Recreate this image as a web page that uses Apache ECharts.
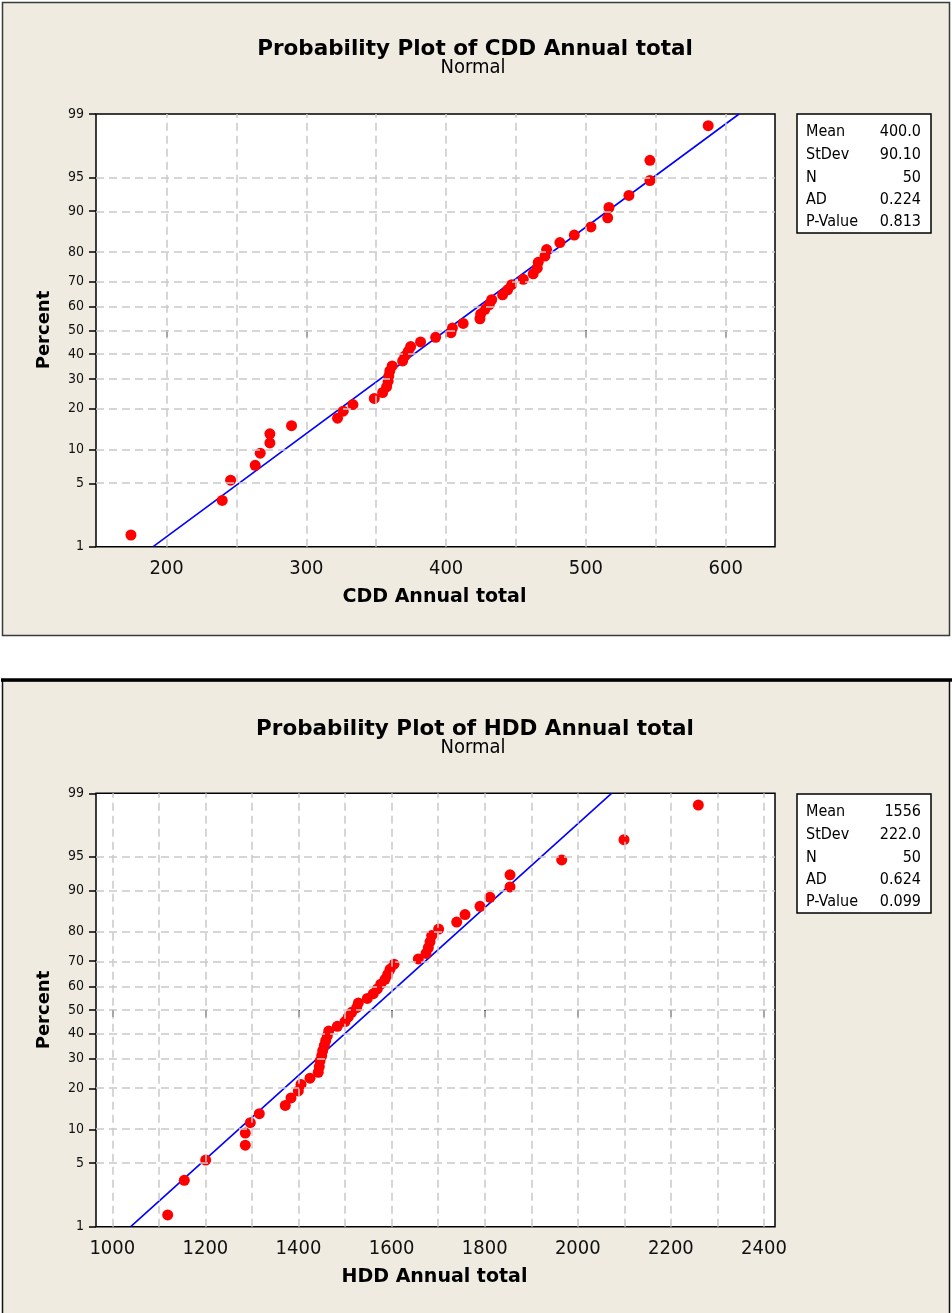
<!DOCTYPE html>
<html>
<head>
<meta charset="utf-8">
<script src="https://cdn.jsdelivr.net/npm/echarts@6/dist/echarts.min.js"></script>
<style>
html,body{margin:0;padding:0;background:#ffffff;}
#chart{width:952px;height:1313px;}
</style>
</head>
<body>
<div id="chart"></div>
<script>
// ---------------- DATA ----------------
const percentTicks = [1, 5, 10, 20, 30, 40, 50, 60, 70, 80, 90, 95, 99];
const percentGrid = [5, 10, 20, 30, 40, 50, 60, 70, 80, 90, 95];

const cddValues = [174.5, 239.8, 245.8, 263.4, 267.0, 273.9, 273.9, 289.4, 322.3, 326.4,
  333.3, 348.6, 354.6, 357.4, 358.5, 359.0, 359.7, 361.4, 368.9, 370.5,
  372.9, 374.6, 381.7, 392.5, 403.5, 404.5, 412.2, 424.2, 424.7, 427.8,
  430.9, 432.6, 440.4, 444.0, 446.9, 455.2, 462.3, 465.2, 465.9, 470.7,
  471.9, 481.4, 491.7, 503.6, 515.6, 516.5, 530.8, 545.8, 545.8, 587.5];
const hddValues = [1119, 1154.7, 1200.6, 1285.7, 1285.7, 1296.5, 1315.8, 1371.6, 1383.9, 1399.6,
  1405.4, 1424.7, 1442.5, 1444.7, 1446.2, 1449.8, 1452.0, 1455.4, 1458.4, 1461.9,
  1464.9, 1483.4, 1499.9, 1507.0, 1514.3, 1525.0, 1528.5, 1547.8, 1560.7, 1569.3,
  1576.6, 1585.8, 1591.6, 1596.6, 1605.2, 1657.4, 1673.9, 1678.9, 1682.5, 1686.1,
  1701.0, 1739.8, 1757.7, 1789.9, 1811.4, 1854.4, 1854.4, 1965.4, 2099.2, 2258.9];

const cddMean = 400.0, cddStDev = 90.10;
const hddMean = 1556, hddStDev = 222.0;

const statLabels = ['Mean', 'StDev', 'N', 'AD', 'P-Value'];
const cddStatValues = ['400.0', '90.10', '50', '0.224', '0.813'];
const hddStatValues = ['1556', '222.0', '50', '0.624', '0.099'];

const cddTickLabels = [200, 300, 400, 500, 600];
const cddGridLines = [200, 250, 300, 350, 400, 450, 500, 550, 600];
const hddTickLabels = [1000, 1200, 1400, 1600, 1800, 2000, 2200, 2400];
const hddGridLines = [1000, 1100, 1200, 1300, 1400, 1500, 1600, 1700, 1800, 1900, 2000, 2100, 2200, 2300, 2400];

const cddTitle = 'Probability Plot of CDD Annual total';
const hddTitle = 'Probability Plot of HDD Annual total';
const subTitle = 'Normal';
const cddXName = 'CDD Annual total';
const hddXName = 'HDD Annual total';
const yName = 'Percent';

// ---------------- normal probability scale ----------------
function probit(p) {
  const a = [-3.969683028665376e+01, 2.209460984245205e+02, -2.759285104469687e+02, 1.383577518672690e+02, -3.066479806614716e+01, 2.506628277459239e+00];
  const b = [-5.447609879822406e+01, 1.615858368580409e+02, -1.556989798598866e+02, 6.680131188771972e+01, -1.328068155288572e+01];
  const c = [-7.784894002430293e-03, -3.223964580411365e-01, -2.400758277161838e+00, -2.549732539343734e+00, 4.374664141464968e+00, 2.938163982698783e+00];
  const d = [7.784695709041462e-03, 3.224671290700398e-01, 2.445134137142996e+00, 3.754408661907416e+00];
  const plow = 0.02425, phigh = 1 - plow;
  let q, r;
  if (p < plow) {
    q = Math.sqrt(-2 * Math.log(p));
    return (((((c[0]*q+c[1])*q+c[2])*q+c[3])*q+c[4])*q+c[5]) / ((((d[0]*q+d[1])*q+d[2])*q+d[3])*q+1);
  } else if (p <= phigh) {
    q = p - 0.5; r = q*q;
    return (((((a[0]*r+a[1])*r+a[2])*r+a[3])*r+a[4])*r+a[5])*q / (((((b[0]*r+b[1])*r+b[2])*r+b[3])*r+b[4])*r+1);
  } else {
    q = Math.sqrt(-2 * Math.log(1 - p));
    return -(((((c[0]*q+c[1])*q+c[2])*q+c[3])*q+c[4])*q+c[5]) / ((((d[0]*q+d[1])*q+d[2])*q+d[3])*q+1);
  }
}
const zMin = probit(0.01), zMax = probit(0.99);
const zTicks = percentTicks.map(p => probit(p / 100));
function zLabel(v) {
  for (let i = 0; i < zTicks.length; i++) if (Math.abs(zTicks[i] - v) < 1e-6) return String(percentTicks[i]);
  return '';
}
// median-rank plotting positions (Minitab)
function points(values) {
  const n = values.length;
  return values.map((v, i) => [v, probit((i + 1 - 0.3) / (n + 0.4))]);
}

// ---------------- layout ----------------
const FONT_R = '"DejaVu Sans Condensed", "DejaVu Sans", sans-serif';
const FONT_B = '"DejaVu Sans", sans-serif';
const BG = '#efebe1';
const OFF = 680;
const gridLeft = 96, gridW = 679, gridTop = 114, gridH = 432.7;

function xAxisFor(idx, min, max, ticks) {
  return {
    type: 'value', gridIndex: idx, min: min, max: max,
    axisLine: {show: false},
    splitLine: {show: false},
    axisTick: {show: true, inside: false, length: 7, customValues: ticks, lineStyle: {color: '#000', width: 1.5}},
    axisLabel: {show: true, customValues: ticks, margin: 12, color: '#111', fontFamily: FONT_R, fontSize: 20,
      formatter: v => String(v)}
  };
}
function yAxisFor(idx) {
  return {
    type: 'value', gridIndex: idx, min: zMin, max: zMax,
    axisLine: {show: false},
    splitLine: {show: false},
    axisTick: {show: true, inside: false, length: 7, customValues: zTicks, lineStyle: {color: '#000', width: 1.5}},
    axisLabel: {show: true, customValues: zTicks, margin: 12, color: '#111', fontFamily: FONT_R, fontSize: 14, formatter: zLabel}
  };
}
function seriesFor(idx, values, mean, sd, gridXs) {
  return [
    {
      type: 'line', xAxisIndex: idx, yAxisIndex: idx, data: [], z: 1, silent: true,
      markLine: {
        silent: true, symbol: ['none', 'none'], animation: false,
        label: {show: false},
        lineStyle: {color: '#c9c9c9', type: [8, 5], width: 1.5},
        emphasis: {disabled: true},
        data: gridXs.map(v => ({xAxis: v})).concat(percentGrid.map(p => ({yAxis: probit(p / 100)})))
      }
    },
    {
      type: 'line', xAxisIndex: idx, yAxisIndex: idx, z: 3, silent: true,
      symbol: 'none', lineStyle: {color: '#0000ff', width: 1.6},
      data: [[mean + zMin * sd, zMin], [mean + zMax * sd, zMax]]
    },
    {
      type: 'scatter', xAxisIndex: idx, yAxisIndex: idx, z: 4, silent: true,
      symbolSize: 11, itemStyle: {color: '#ff0000', opacity: 1},
      data: points(values)
    }
  ];
}
function panelGraphics(off, title, xName, statValues) {
  const g = [];
  g.push({type: 'text', x: 475, y: 49 + off, style: {text: title, font: 'bold 21.5px ' + FONT_B, fill: '#000', align: 'center', verticalAlign: 'middle'}, silent: true});
  g.push({type: 'text', x: 473, y: 68 + off, style: {text: subTitle, font: '20px ' + FONT_R, fill: '#000', align: 'center', verticalAlign: 'middle'}, silent: true});
  g.push({type: 'text', x: 434.5, y: 597 + off, style: {text: xName, font: 'bold 19px ' + FONT_B, fill: '#000', align: 'center', verticalAlign: 'middle'}, silent: true});
  g.push({type: 'text', x: 44, y: 330 + off, rotation: Math.PI / 2, style: {text: yName, font: 'bold 18px ' + FONT_B, fill: '#000', align: 'center', verticalAlign: 'middle'}, silent: true});
  g.push({type: 'rect', shape: {x: 797, y: 114 + off, width: 134, height: 119}, style: {fill: '#fff', stroke: '#000', lineWidth: 1.5}, silent: true});
  const rows = [131.7, 155, 177.5, 200, 221.7];
  statLabels.forEach((s, i) => {
    g.push({type: 'text', x: 806, y: rows[i] + off, style: {text: s, font: '16px ' + FONT_R, fill: '#000', align: 'left', verticalAlign: 'middle'}, silent: true});
    g.push({type: 'text', x: 921, y: rows[i] + off, style: {text: statValues[i], font: '16px ' + FONT_R, fill: '#000', align: 'right', verticalAlign: 'middle'}, silent: true});
  });
  return g;
}

const chart = echarts.init(document.getElementById('chart'), null, {renderer: 'canvas', width: 952, height: 1313});

const graphics = [
  {type: 'rect', z: -10, shape: {x: 2.5, y: 2.5, width: 947, height: 633}, style: {fill: BG, stroke: '#3a3a3a', lineWidth: 1.5}, silent: true},
  {type: 'rect', z: -10, shape: {x: 2.5, y: 680.5, width: 947, height: 660}, style: {fill: BG, stroke: '#111', lineWidth: 1.5}, silent: true},
  {type: 'line', z: -9, shape: {x1: 1, y1: 680, x2: 952, y2: 680}, style: {stroke: '#000', lineWidth: 3.5}, silent: true}
].concat(panelGraphics(0, cddTitle, cddXName, cddStatValues))
 .concat(panelGraphics(OFF, hddTitle, hddXName, hddStatValues));

chart.setOption({
  animation: false,
  backgroundColor: '#ffffff',
  graphic: {elements: graphics},
  grid: [
    {left: gridLeft, top: gridTop, width: gridW, height: gridH, show: true, backgroundColor: '#fff', borderColor: '#000', borderWidth: 1.5, z: 0},
    {left: gridLeft, top: gridTop + OFF - 0.7, width: gridW, height: gridH + 0.7, show: true, backgroundColor: '#fff', borderColor: '#000', borderWidth: 1.5, z: 0}
  ],
  xAxis: [
    xAxisFor(0, 149.5, 635.3, cddTickLabels),
    xAxisFor(1, 965, 2423.6, hddTickLabels)
  ],
  yAxis: [yAxisFor(0), yAxisFor(1)],
  series: seriesFor(0, cddValues, cddMean, cddStDev, cddGridLines)
    .concat(seriesFor(1, hddValues, hddMean, hddStDev, hddGridLines))
});
</script>
</body>
</html>
